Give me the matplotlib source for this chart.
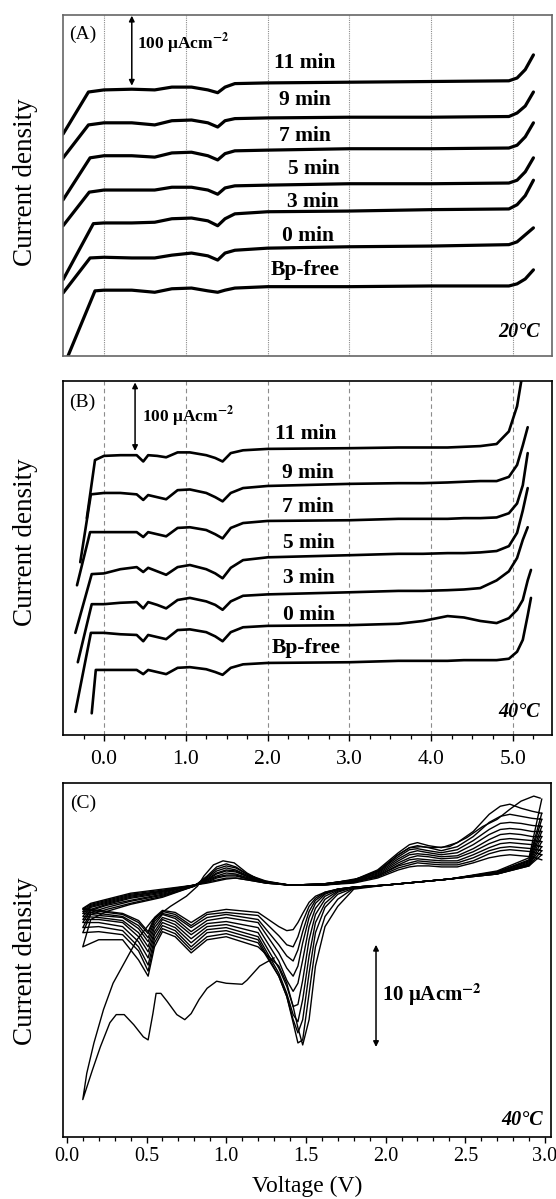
import numpy as np
import matplotlib.pyplot as plt
from matplotlib.ticker import MultipleLocator

plt.rcParams['font.family'] = ['Liberation Serif', 'DejaVu Serif']
plt.rcParams['mathtext.fontset'] = 'stix'

nan = np.nan

curve_labels = ["Bp-free", "0 min", "3 min", "5 min", "7 min", "9 min", "11 min"]
grid_volts = [0, 1, 2, 3, 4, 5]

# ---- panel A: linear sweeps at 20 C (uA cm-2, curves offset) ----
start_v_a = [-0.44, -0.50, -0.50, -0.50, -0.50, -0.50, -0.50]
start_i_a = [0, 90, 109, 186, 223, 283, 317]
knee_v_a = [-0.11, -0.17, -0.13, -0.18, -0.17, -0.19, -0.19]
knee_i_a = [93, 140, 189, 234, 283, 330, 377]
volt_a = [0.0, 0.34, 0.62, 0.83, 1.07, 1.27, 1.39, 1.48, 1.60, 2.0, 3.0, 4.0, 4.95, 5.05, 5.15, 5.25]
a_bpfree = [94, 94, 91, 96, 97, 93, 91, 94, 97, 99, 99, 100, 100, 103, 110, 123]
a_0min = [141, 140, 140, 144, 147, 143, 137, 147, 151, 154, 156, 157, 159, 163, 173, 183]
a_3min = [190, 190, 191, 196, 197, 193, 186, 196, 203, 206, 207, 209, 210, 216, 229, 251]
a_5min = [237, 237, 237, 241, 241, 237, 231, 240, 243, 244, 246, 246, 247, 251, 263, 283]
a_7min = [286, 286, 284, 290, 291, 286, 280, 289, 293, 294, 296, 296, 297, 301, 313, 333]
a_9min = [333, 333, 330, 336, 337, 333, 327, 336, 339, 340, 341, 341, 342, 347, 357, 377]
a_11min = [380, 381, 380, 384, 384, 380, 376, 384, 389, 390, 391, 392, 393, 397, 409, 430]
label_v_a = [2.46, 2.50, 2.55, 2.57, 2.46, 2.46, 2.46]
label_i_a = [123, 171, 220, 267, 314, 366, 419]

# ---- panel B: linear sweeps at 40 C ----
start_v_b = [-0.15, -0.35, -0.32, -0.35, -0.33, -0.29, -0.21]
start_i_b = [31, 33, 104, 146, 214, 247, 310]
knee_v_b = [-0.10, -0.16, -0.15, -0.15, -0.17, -0.16, -0.11]
knee_i_b = [93, 146, 187, 230, 290, 344, 393]
volt_b = [0.0, 0.2, 0.4, 0.48, 0.54, 0.65, 0.76, 0.90, 1.05, 1.25, 1.36, 1.45, 1.55,
          1.70, 2.0, 3.0, 3.6, 3.9, 4.2, 4.4, 4.6, 4.8, 4.95, 5.05, 5.12, 5.18, 5.22]
b_bpfree = [93, 93, 93, 87, 93, 90, 87, 96, 97, 94, 90, 86, 96, 101, 103, 104, 106, 106, 106, 107, 107, 107, 109, 119, 136, 171, 196]
b_0min = [146, 144, 143, 134, 143, 140, 137, 150, 151, 147, 141, 134, 147, 154, 156, 157, 159, 163, 170, 168, 163, 160, 167, 179, 193, 221, 236]
b_3min = [187, 189, 190, 181, 190, 186, 181, 193, 196, 191, 186, 179, 191, 199, 201, 204, 206, 206, 207, 208, 210, 221, 234, 253, 279, 297, nan]
b_5min = [231, 237, 240, 233, 239, 234, 229, 240, 243, 237, 231, 224, 239, 250, 254, 257, 259, 259, 260, 260, 261, 263, 270, 289, 321, 353, nan]
b_7min = [290, 290, 290, 283, 290, 287, 284, 296, 297, 293, 287, 281, 296, 303, 306, 307, 309, 309, 309, 310, 310, 311, 317, 331, 357, 403, nan]
b_9min = [346, 346, 344, 336, 343, 340, 337, 350, 351, 346, 340, 334, 346, 353, 356, 359, 360, 360, 361, 362, 363, 363, 369, 386, 414, 440, nan]
b_11min = [399, 400, 400, 391, 400, 399, 397, 404, 404, 400, 396, 391, 403, 407, 409, 410, 411, 411, 411, 412, 413, 416, 434, 470, 519, nan, nan]
label_v_b = [2.47, 2.51, 2.51, 2.51, 2.49, 2.49, 2.47]
label_i_b = [124, 171, 224, 274, 326, 374, 431]

# ---- panel C: cyclic voltammetry at 40 C (uA cm-2, offset) ----
volt_first_cath = [1.30, 1.21, 1.13, 1.10, 1.00, 0.94, 0.88, 0.83, 0.78, 0.74, 0.69, 0.63,
                   0.59, 0.56, 0.54, 0.51, 0.48, 0.42, 0.36, 0.31, 0.27, 0.21, 0.16, 0.10]
first_cath = [17.7, 16.9, 15.5, 15.1, 15.2, 15.4, 14.7, 13.6, 12.2, 11.6, 12.1, 13.4,
              14.2, 14.2, 12.2, 9.6, 9.9, 11.1, 12.1, 12.1, 11.3, 8.9, 6.6, 3.7]
volt_first_anod = [0.10, 0.125, 0.17, 0.23, 0.29, 0.36, 0.44, 0.54, 0.65, 0.75, 0.82, 0.86,
                   0.92, 0.98, 1.05, 1.13, 1.21, 1.38, 1.63, 1.84, 1.97, 2.07, 2.15, 2.22,
                   2.30, 2.40, 2.51, 2.61, 2.70, 2.78, 2.85, 2.93, 2.97]
first_anod = [3.7, 6.3, 9.3, 12.6, 15.2, 17.2, 19.5, 21.5, 22.8, 23.8, 24.8, 25.8,
              26.9, 27.3, 27.1, 26.1, 25.4, 24.9, 25.0, 25.6, 26.4, 27.8, 28.6, 28.7,
              28.6, 28.7, 29.6, 30.7, 31.4, 32.4, 33.2, 33.7, 33.5]

volt_cath = [2.98, 2.9, 2.7, 2.4, 2.0, 1.8, 1.7, 1.62, 1.56, 1.52, 1.48, 1.45, 1.42, 1.38,
             1.33, 1.2, 1.0, 0.88, 0.78, 0.68, 0.60, 0.55, 0.51, 0.45, 0.35, 0.2, 0.1]
cath_2 = [33.4, 27.6, 26.3, 25.5, 24.9, 24.5, 22.8, 20.8, 16.9, 11.6, 9.1, 10.8, 12.9, 15.2, 16.9, 18.8, 19.8, 19.5, 18.2, 19.8, 20.3, 18.8, 15.9, 17.5, 19.5, 19.5, 18.8]
cath_3 = [32.0, 27.4, 26.2, 25.5, 24.9, 24.6, 23.5, 21.8, 18.8, 14.2, 9.6, 9.3, 11.3, 13.9, 15.9, 19.2, 20.1, 19.8, 18.5, 20.1, 20.6, 19.2, 16.4, 18.4, 20.0, 20.3, 20.2]
cath_4 = [31.4, 27.3, 26.2, 25.5, 24.9, 24.6, 24.0, 22.7, 20.2, 16.2, 11.6, 10.3, 11.6, 13.9, 15.9, 19.5, 20.4, 20.2, 18.8, 20.4, 20.9, 19.6, 17.0, 18.8, 20.4, 20.8, 20.7]
cath_5 = [30.7, 27.2, 26.2, 25.5, 24.9, 24.7, 24.2, 23.1, 21.2, 17.9, 13.6, 11.4, 12.1, 14.2, 16.2, 19.8, 20.7, 20.5, 19.2, 20.7, 21.2, 20.0, 17.7, 19.3, 20.8, 21.2, 21.2]
cath_6 = [30.2, 27.1, 26.1, 25.5, 24.9, 24.7, 24.3, 23.5, 22.0, 19.5, 15.5, 13.1, 12.9, 14.9, 16.7, 20.2, 21.0, 20.8, 19.6, 21.0, 21.5, 20.3, 18.3, 19.8, 21.2, 21.5, 21.5]
cath_7 = [29.7, 27.0, 26.1, 25.5, 24.9, 24.7, 24.4, 23.8, 22.6, 20.8, 17.5, 15.2, 14.4, 15.5, 17.4, 20.7, 21.3, 21.1, 20.0, 21.3, 21.7, 20.7, 18.8, 20.2, 21.4, 21.7, 21.8]
cath_8 = [29.2, 26.9, 26.1, 25.5, 24.9, 24.7, 24.5, 24.0, 23.1, 21.7, 19.2, 16.9, 15.9, 16.7, 18.2, 21.2, 21.7, 21.4, 20.3, 21.6, 22.0, 21.0, 19.3, 20.6, 21.7, 21.9, 22.1]
cath_9 = [28.7, 26.9, 26.0, 25.5, 24.9, 24.7, 24.5, 24.1, 23.4, 22.3, 20.3, 18.5, 17.4, 17.9, 19.0, 21.5, 22.0, 21.7, 20.7, 21.8, 22.1, 21.3, 19.7, 20.9, 21.8, 22.1, 22.3]
cath_10 = [28.3, 26.8, 26.0, 25.5, 24.9, 24.7, 24.5, 24.2, 23.6, 22.8, 21.3, 19.8, 18.8, 19.0, 19.9, 21.9, 22.2, 22.0, 20.9, 22.0, 22.3, 21.5, 20.1, 21.2, 22.0, 22.3, 22.5]
cath_11 = [27.9, 26.8, 26.0, 25.5, 24.9, 24.7, 24.5, 24.2, 23.8, 23.2, 22.1, 21.2, 20.5, 20.4, 20.8, 22.2, 22.5, 22.2, 21.2, 22.2, 22.4, 21.7, 20.3, 21.4, 22.1, 22.4, 22.6]

volt_anod = [0.1, 0.15, 0.25, 0.4, 0.6, 0.8, 0.88, 0.94, 1.0, 1.06, 1.14, 1.25, 1.4, 1.6, 1.8,
             1.95, 2.08, 2.15, 2.2, 2.27, 2.35, 2.45, 2.55, 2.65, 2.72, 2.78, 2.85, 2.92, 2.98]
anod_2 = [18.8, 21.5, 22.3, 23.0, 23.7, 24.8, 25.8, 26.7, 27.0, 26.7, 25.9, 25.3, 24.9, 25.0, 25.4, 26.4, 28.1, 28.9, 29.1, 28.8, 28.6, 29.1, 30.2, 31.9, 32.7, 32.9, 32.5, 32.2, 32.0]
anod_3 = [20.2, 22.0, 22.5, 23.1, 23.8, 24.8, 25.7, 26.5, 26.8, 26.6, 25.9, 25.2, 24.9, 25.0, 25.4, 26.3, 27.9, 28.6, 28.8, 28.6, 28.3, 28.7, 29.7, 31.1, 31.7, 31.9, 31.7, 31.5, 31.4]
anod_4 = [20.7, 22.2, 22.7, 23.3, 23.9, 24.8, 25.6, 26.3, 26.6, 26.4, 25.8, 25.2, 24.9, 25.0, 25.4, 26.2, 27.7, 28.4, 28.5, 28.3, 28.1, 28.4, 29.3, 30.4, 31.0, 31.1, 31.0, 30.8, 30.7]
anod_5 = [21.2, 22.4, 22.9, 23.4, 24.0, 24.8, 25.5, 26.1, 26.4, 26.3, 25.7, 25.2, 24.9, 25.0, 25.3, 26.1, 27.5, 28.1, 28.3, 28.1, 27.9, 28.1, 28.9, 29.9, 30.4, 30.5, 30.4, 30.2, 30.2]
anod_6 = [21.5, 22.5, 23.0, 23.6, 24.1, 24.9, 25.4, 26.0, 26.3, 26.2, 25.7, 25.2, 24.9, 25.0, 25.3, 26.0, 27.3, 27.9, 28.0, 27.9, 27.7, 27.8, 28.5, 29.4, 29.9, 30.0, 29.9, 29.7, 29.7]
anod_7 = [21.8, 22.7, 23.1, 23.7, 24.2, 24.9, 25.4, 25.8, 26.1, 26.0, 25.6, 25.2, 24.9, 25.0, 25.2, 25.9, 27.1, 27.6, 27.8, 27.7, 27.5, 27.6, 28.2, 29.0, 29.4, 29.5, 29.4, 29.3, 29.2]
anod_8 = [22.1, 22.8, 23.2, 23.8, 24.3, 24.9, 25.3, 25.7, 25.9, 25.9, 25.5, 25.2, 24.9, 24.9, 25.2, 25.8, 26.9, 27.4, 27.5, 27.4, 27.3, 27.3, 27.9, 28.6, 29.0, 29.1, 29.0, 28.9, 28.7]
anod_9 = [22.3, 22.9, 23.3, 23.9, 24.3, 24.9, 25.2, 25.6, 25.8, 25.8, 25.5, 25.1, 24.9, 24.9, 25.2, 25.8, 26.8, 27.1, 27.3, 27.2, 27.1, 27.1, 27.6, 28.3, 28.6, 28.7, 28.6, 28.5, 28.3]
anod_10 = [22.5, 23.0, 23.4, 24.0, 24.4, 24.9, 25.2, 25.4, 25.6, 25.6, 25.4, 25.1, 24.9, 24.9, 25.2, 25.7, 26.6, 26.9, 27.1, 27.0, 26.9, 26.9, 27.3, 28.0, 28.3, 28.4, 28.3, 28.2, 27.9]
anod_11 = [22.6, 23.1, 23.5, 24.1, 24.5, 24.9, 25.1, 25.3, 25.5, 25.6, 25.4, 25.1, 24.9, 24.9, 25.1, 25.6, 26.4, 26.7, 26.8, 26.8, 26.7, 26.7, 27.1, 27.6, 27.8, 27.9, 27.8, 27.7, 27.4]

cath_cycles = [cath_2, cath_3, cath_4, cath_5, cath_6, cath_7, cath_8, cath_9, cath_10, cath_11]
anod_cycles = [anod_2, anod_3, anod_4, anod_5, anod_6, anod_7, anod_8, anod_9, anod_10, anod_11]


def stacked_panel(ax, sv, si, kv, ki, volt, curves, lv, li, lw, grid_ls):
    for v in grid_volts:
        ax.axvline(v, color='#8c8c8c', lw=0.8, ls=grid_ls, zorder=0)
    for n, cur in enumerate(curves):
        ax.plot([sv[n], kv[n]] + volt, [si[n], ki[n]] + cur, color='black', lw=lw,
                solid_joinstyle='round', solid_capstyle='round')
        ax.text(lv[n], li[n], curve_labels[n], ha='center', va='center',
                fontsize=15.5, fontweight='bold')
    ax.set_xlim(-0.495, 5.477)
    ax.set_yticks([])


def scale_bar(ax, x, lo, hi, text, tx, ty, size):
    ax.annotate('', xy=(x, hi), xytext=(x, lo),
                arrowprops=dict(arrowstyle='<|-|>', color='black', lw=1.1,
                                mutation_scale=8, shrinkA=0, shrinkB=0))
    ax.text(tx, ty, text, ha='left', va='center', fontsize=size, fontweight='bold')


fig = plt.figure(figsize=(5.56, 11.99), dpi=100)
ax_a = fig.add_axes([0.1142, 0.7031, 0.8786, 0.2844])
ax_b = fig.add_axes([0.1142, 0.3870, 0.8786, 0.2952])
ax_c = fig.add_axes([0.1142, 0.0517, 0.8768, 0.2953])

# panel A
stacked_panel(ax_a, start_v_a, start_i_a, knee_v_a, knee_i_a, volt_a,
              [a_bpfree, a_0min, a_3min, a_5min, a_7min, a_9min, a_11min],
              label_v_a, label_i_a, 2.3, (0, (1, 1)))
ax_a.set_ylim(0, 487)
ax_a.set_xticks([])
for s in ax_a.spines.values():
    s.set_color('#666666')
    s.set_linewidth(1.2)
scale_bar(ax_a, 0.34, 386, 486, r'100 μAcm$^{\mathbf{-2}}$', 0.40, 446, 12.5)
ax_a.text(-0.43, 459, '(A)', fontsize=14, va='center', ha='left')
ax_a.text(5.33, 34, '20°C', fontsize=14.5, fontweight='bold', fontstyle='italic',
          ha='right', va='center')

# panel B
stacked_panel(ax_b, start_v_b, start_i_b, knee_v_b, knee_i_b, volt_b,
              [b_bpfree, b_0min, b_3min, b_5min, b_7min, b_9min, b_11min],
              label_v_b, label_i_b, 1.9, (0, (4, 3)))
ax_b.set_ylim(0, 506)
ax_b.set_xticks(grid_volts)
ax_b.set_xticklabels(['%.1f' % v for v in grid_volts])
ax_b.xaxis.set_minor_locator(MultipleLocator(0.25))
scale_bar(ax_b, 0.38, 406, 504, r'100 μAcm$^{\mathbf{-2}}$', 0.46, 455, 12.5)
ax_b.text(-0.43, 476, '(B)', fontsize=14, va='center', ha='left')
ax_b.text(5.33, 33, '40°C', fontsize=14.5, fontweight='bold', fontstyle='italic',
          ha='right', va='center')

# panel C
ax_c.plot(volt_first_cath + volt_first_anod, first_cath + first_anod, color='black', lw=1.0)
for cath, anod in zip(cath_cycles, anod_cycles):
    ax_c.plot(volt_cath + volt_anod, cath + anod, color='black', lw=1.0)
ax_c.set_xlim(-0.021, 3.038)
ax_c.set_ylim(0, 35.0)
ax_c.set_yticks([])
ax_c.set_xticks([0, 0.5, 1.0, 1.5, 2.0, 2.5, 3.0])
ax_c.set_xticklabels(['0.0', '0.5', '1.0', '1.5', '2.0', '2.5', '3.0'])
ax_c.xaxis.set_minor_locator(MultipleLocator(0.1))
ax_c.set_xlabel('Voltage (V)', fontsize=17, labelpad=7)
scale_bar(ax_c, 1.94, 8.9, 19.0, r'10 μAcm$^{\mathbf{-2}}$', 1.98, 14.1, 15)
ax_c.text(0.02, 33.0, '(C)', fontsize=14, va='center', ha='left')
ax_c.text(2.985, 1.7, '40°C', fontsize=14.5, fontweight='bold', fontstyle='italic',
          ha='right', va='center')

for ax, lsize, lpad in ((ax_b, 15.5, 6), (ax_c, 14.5, 3)):
    for s in ax.spines.values():
        s.set_linewidth(1.2)
    ax.tick_params(axis='x', which='major', direction='out', length=4.5, width=1.0,
                   labelsize=lsize, pad=lpad)
    ax.tick_params(axis='x', which='minor', direction='out', length=3, width=0.9)

for ycen in (0.848, 0.548, 0.198):
    fig.text(0.045, ycen, 'Current density', rotation=90, ha='center', va='center',
             fontsize=19.5)

fig.savefig('out.png', dpi=100)
